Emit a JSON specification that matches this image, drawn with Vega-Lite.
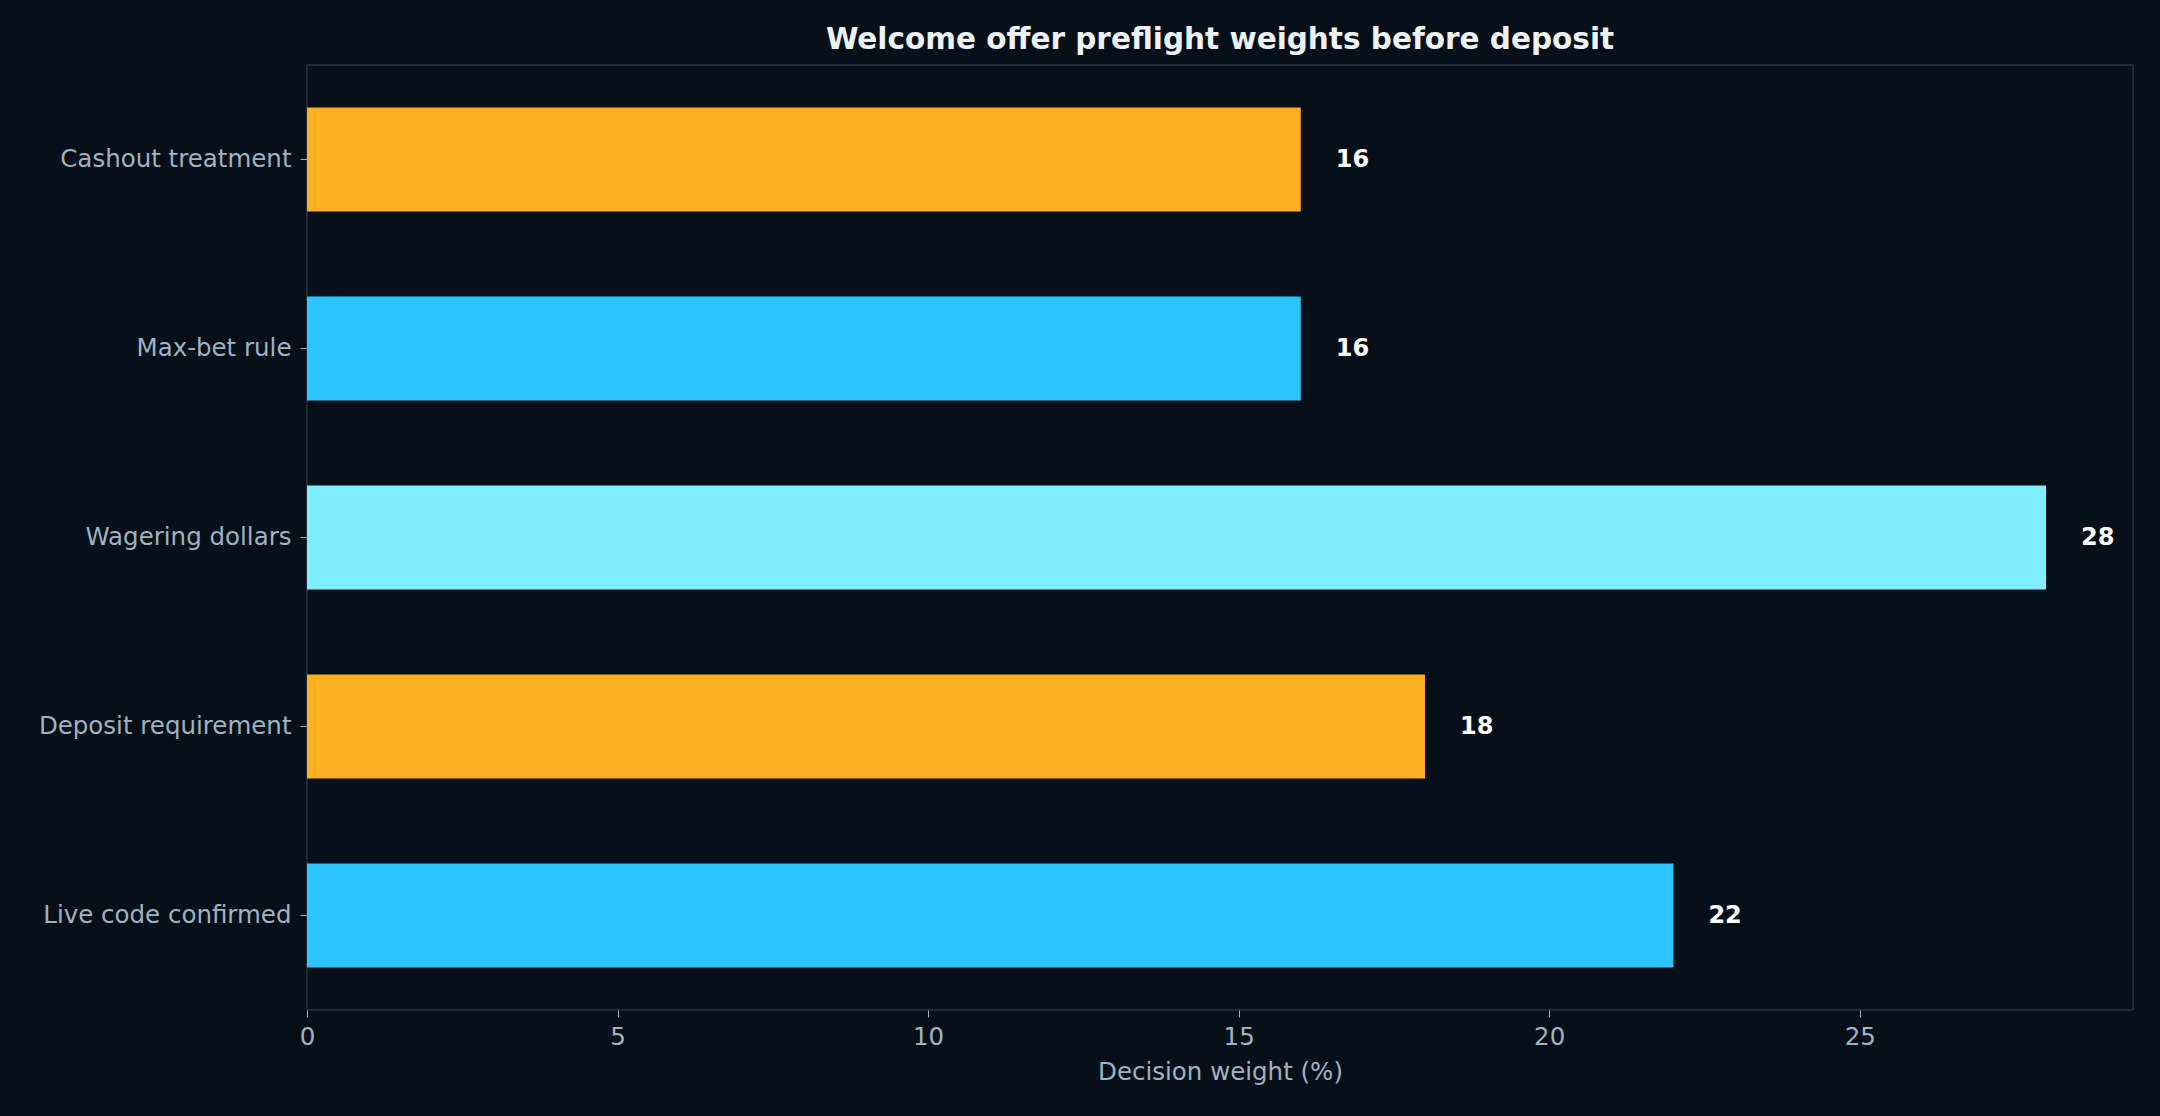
{
  "$schema": "https://vega.github.io/schema/vega-lite/v6.json",
  "autosize": {"type": "none"},
  "width": 1826,
  "height": 945,
  "padding": {"left": 307, "top": 65, "right": 27, "bottom": 106},
  "background": "#070f18",
  "title": {
    "text": "Welcome offer preflight weights before deposit",
    "font": "DejaVu Sans",
    "fontSize": 29.5,
    "fontWeight": "bold",
    "color": "#eef2f6",
    "anchor": "middle",
    "offset": 10
  },
  "data": {
    "values": [
      {"factor": "Cashout treatment", "weight": 16},
      {"factor": "Max-bet rule", "weight": 16},
      {"factor": "Wagering dollars", "weight": 28},
      {"factor": "Deposit requirement", "weight": 18},
      {"factor": "Live code confirmed", "weight": 22}
    ]
  },
  "config": {
    "view": {"stroke": "#2a3447", "strokeWidth": 1.5},
    "font": "DejaVu Sans"
  },
  "encoding": {
    "y": {
      "field": "factor",
      "type": "nominal",
      "sort": null,
      "scale": {"paddingInner": 0.45, "paddingOuter": 0.225},
      "axis": {
        "title": null,
        "domain": false,
        "labelFont": "DejaVu Sans",
        "labelFontSize": 24.5,
        "labelColor": "#9fb3c2",
        "labelLimit": 600,
        "tickColor": "#9fb3c2",
        "tickSize": 7,
        "labelPadding": 9
      }
    }
  },
  "layer": [
    {
      "mark": {"type": "bar"},
      "encoding": {
        "x": {
          "field": "weight",
          "type": "quantitative",
          "scale": {"domain": [0, 29.4], "nice": false, "zero": true},
          "axis": {
            "title": "Decision weight (%)",
            "values": [0, 5, 10, 15, 20, 25],
            "format": "d",
            "grid": false,
            "domain": false,
            "labelFlush": false,
            "labelFont": "DejaVu Sans",
            "labelFontSize": 24.5,
            "labelColor": "#9fb3c2",
            "labelPadding": 8,
            "tickColor": "#9fb3c2",
            "tickSize": 7,
            "titleFont": "DejaVu Sans",
            "titleFontSize": 24.5,
            "titleFontWeight": "normal",
            "titleColor": "#9fb3c2",
            "titlePadding": 12
          }
        },
        "color": {
          "field": "factor",
          "type": "nominal",
          "legend": null,
          "scale": {
            "domain": ["Cashout treatment", "Max-bet rule", "Wagering dollars", "Deposit requirement", "Live code confirmed"],
            "range": ["#ffb020", "#2cc5ff", "#7eeeff", "#ffb020", "#2cc5ff"]
          }
        }
      }
    },
    {
      "mark": {
        "type": "text",
        "align": "left",
        "baseline": "middle",
        "dx": 35,
        "font": "DejaVu Sans",
        "fontSize": 24,
        "fontWeight": "bold",
        "color": "#ffffff"
      },
      "encoding": {
        "x": {"field": "weight", "type": "quantitative"},
        "text": {"field": "weight", "type": "quantitative"}
      }
    }
  ]
}
